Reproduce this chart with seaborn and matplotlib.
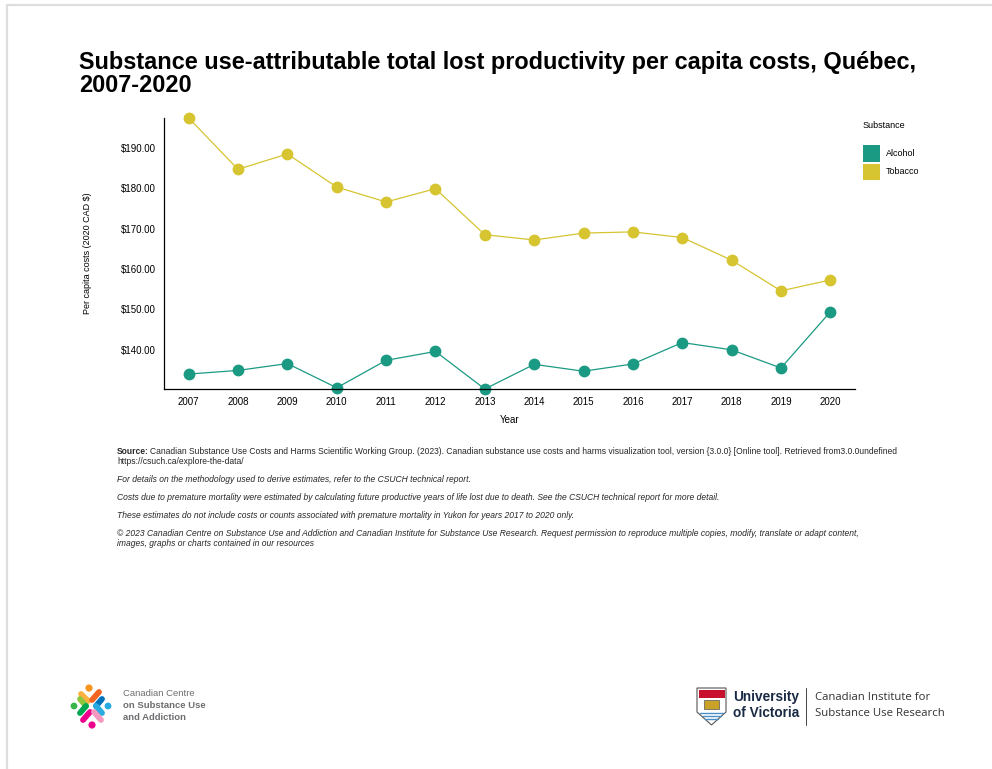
import matplotlib
matplotlib.use("Agg")
import matplotlib.pyplot as plt
import matplotlib.patches as mpatches
from matplotlib.lines import Line2D
from matplotlib.ticker import FuncFormatter
import numpy as np
import pandas as pd
import seaborn as sns

# ---------------- data ----------------
years = [2007, 2008, 2009, 2010, 2011, 2012, 2013, 2014, 2015, 2016, 2017, 2018, 2019, 2020]
alcohol = [134.0, 134.9, 136.6, 130.6, 137.4, 139.6, 130.3, 136.4, 134.7, 136.5, 141.8, 140.0, 135.5, 149.4]
tobacco = [197.4, 184.7, 188.5, 180.3, 176.6, 179.9, 168.5, 167.2, 168.9, 169.2, 167.8, 162.2, 154.6, 157.3]
substances = ["Alcohol", "Tobacco"]
colors = ["#1b9a83", "#d6c431"]
y_ticks = [140, 150, 160, 170, 180, 190]

title_lines = ["Substance use-attributable total lost productivity per capita costs, Québec,", "2007-2020"]
y_label = "Per capita costs (2020 CAD $)"
x_label = "Year"
legend_title = "Substance"
source_bold = "Source:"
source_rest = ("Canadian Substance Use Costs and Harms Scientific Working Group. (2023). Canadian substance use costs and harms "
               "visualization tool, version {3.0.0} [Online tool]. Retrieved from3.0.0undefined")
source_url = "https://csuch.ca/explore-the-data/"
notes = [
    "For details on the methodology used to derive estimates, refer to the CSUCH technical report.",
    "Costs due to premature mortality were estimated by calculating future productive years of life lost due to death. See the CSUCH technical report for more detail.",
    "These estimates do not include costs or counts associated with premature mortality in Yukon for years 2017 to 2020 only.",
]
copyright_lines = [
    "© 2023 Canadian Centre on Substance Use and Addiction and Canadian Institute for Substance Use Research. Request permission to reproduce multiple copies, modify, translate or adapt content,",
    "images, graphs or charts contained in our resources",
]

df = pd.DataFrame({
    "Year": years * 2,
    "Cost": alcohol + tobacco,
    "Substance": [substances[0]] * len(years) + [substances[1]] * len(years),
})

# ---------------- style ----------------
sns.set_theme(style="white")
plt.rcParams["font.family"] = ["Liberation Sans", "DejaVu Sans"]

W, H = 992, 769
fig = plt.figure(figsize=(W / 100, H / 100), dpi=100)

def fx(x):
    return x / W

def fy(y):
    return 1 - y / H

ax_l, ax_r, ax_t, ax_b = 164, 855, 118, 389
ax = fig.add_axes([fx(ax_l), fy(ax_b), (ax_r - ax_l) / W, (ax_b - ax_t) / H])

sns.lineplot(data=df, x="Year", y="Cost", hue="Substance", palette=colors,
             marker="o", markersize=8.5, markeredgewidth=0, linewidth=0.9,
             legend=False, ax=ax)
for ln in ax.lines:
    ln.set_clip_on(False)

ymin = min(alcohol + tobacco)
ymax = max(alcohol + tobacco)
ax.set_ylim(ymin, ymax)
ax.set_xlim(years[0] - 0.5, years[-1] + 0.5)
ax.set_xticks(years)
ax.set_xticklabels([str(y) for y in years])
ax.set_yticks(y_ticks)
ax.yaxis.set_major_formatter(FuncFormatter(lambda v, p: f"${v:.2f}"))
ax.set_yticks([ymin, ymax], minor=True)
ax.set_xticks([years[0] - 0.5, years[-1] + 0.5], minor=True)

for side in ["top", "right"]:
    ax.spines[side].set_visible(False)
for side in ["left", "bottom"]:
    ax.spines[side].set_color("black")
    ax.spines[side].set_linewidth(0.9)

ax.tick_params(axis="both", which="both", direction="out", length=4.5, width=0.9,
               color="black", labelsize=7, labelcolor="black")
ax.tick_params(axis="y", which="major", pad=1.5)
ax.tick_params(axis="x", which="major", pad=1.5)
ax.tick_params(axis="both", which="minor", labelsize=0)
ax.grid(False)

ax.set_xlabel(x_label, fontsize=7, color="black")
ax.set_ylabel(y_label, fontsize=6.5, color="black")
ax.xaxis.set_label_coords(0.5, -(415 - ax_b) / (ax_b - ax_t))
ax.yaxis.set_label_coords(-(164 - 92) / (ax_r - ax_l), 0.5)

# ---------------- title ----------------
fig.text(fx(79), fy(62), title_lines[0], fontsize=16.9, fontweight="bold", color="black",
         ha="left", va="center")
fig.text(fx(79), fy(85), title_lines[1], fontsize=16.9, fontweight="bold", color="black",
         ha="left", va="center")

# ---------------- legend ----------------
fig.text(fx(863), fy(125), legend_title, fontsize=6.5, color="black", ha="left", va="center")
for i, (name, c) in enumerate(zip(substances, colors)):
    top = 145.5 + i * 18.3
    fig.patches.append(mpatches.Rectangle((fx(863), fy(top + 16.5)), 17 / W, 16.5 / H,
                                          transform=fig.transFigure, facecolor=c, edgecolor="none"))
    fig.text(fx(886), fy(top + 8.2), name, fontsize=6.5, color="black", ha="left", va="center")

# ---------------- footnotes ----------------
fig.canvas.draw()
renderer = fig.canvas.get_renderer()
fs_note = 6.15
t_src = fig.text(fx(117), fy(451), source_bold, fontsize=fs_note, fontweight="bold", ha="left", va="center")
bb = t_src.get_window_extent(renderer=renderer)
fig.text((bb.x1 + 1.5) / W, fy(451), source_rest, fontsize=fs_note, ha="left", va="center")
fig.text(fx(117), fy(462), source_url, fontsize=fs_note, ha="left", va="center")
for i, n in enumerate(notes):
    fig.text(fx(117), fy(479 + i * 18), n, fontsize=fs_note, style="italic", ha="left", va="center")
fig.text(fx(117), fy(533), copyright_lines[0], fontsize=fs_note, style="italic", ha="left", va="center")
fig.text(fx(117), fy(544), copyright_lines[1], fontsize=fs_note, style="italic", ha="left", va="center")

# ---------------- page border ----------------
fig.lines.append(Line2D([fx(7), fx(992)], [fy(5), fy(5)], transform=fig.transFigure,
                        color="#dedede", linewidth=1.6))
fig.lines.append(Line2D([fx(7), fx(7)], [fy(5), fy(769)], transform=fig.transFigure,
                        color="#dedede", linewidth=1.6))

# ---------------- CCSA logo (approximation) ----------------
cx, cy = 91, 706
def seg(x0, y0, x1, y1, c, lw=4.2):
    fig.lines.append(Line2D([fx(x0), fx(x1)], [fy(y0), fy(y1)], transform=fig.transFigure,
                            color=c, linewidth=lw, solid_capstyle="round"))
def dot(x, y, r, c):
    fig.patches.append(mpatches.Ellipse((fx(x), fy(y)), 2 * r / W, 2 * r / H,
                                        transform=fig.transFigure, facecolor=c, edgecolor="none"))
dot(cx - 2, 688, 3.6, "#f7941d")
seg(cx - 10, 694, cx - 3, 701, "#fbb040")
seg(cx + 8, 692, cx + 1, 700, "#f26522")
dot(cx - 17, 706, 3.4, "#39b54a")
seg(cx - 11, 699, cx - 5, 706, "#8dc63f")
seg(cx - 11, 713, cx - 5, 706, "#00a651")
dot(cx + 17, 706, 3.4, "#27aae1")
seg(cx + 11, 699, cx + 5, 706, "#0072bc")
seg(cx + 11, 713, cx + 5, 706, "#29abe2")
dot(cx + 1, 725, 3.6, "#ec008c")
seg(cx - 8, 720, cx - 1, 712, "#ec008c")
seg(cx + 10, 720, cx + 3, 712, "#f49ac1")
fig.text(fx(123), fy(694), "Canadian Centre", fontsize=6.8, color="#6d6e71", ha="left", va="center")
fig.text(fx(123), fy(706), "on Substance Use", fontsize=6.8, color="#6d6e71", fontweight="bold", ha="left", va="center")
fig.text(fx(123), fy(717), "and Addiction", fontsize=6.8, color="#6d6e71", fontweight="bold", ha="left", va="center")

# ---------------- UVic logo (approximation) ----------------
shield = np.array([[697, 688], [726, 688], [726, 712], [711.5, 725], [697, 712]], dtype=float)
fig.patches.append(mpatches.Polygon(np.column_stack([fx(shield[:, 0]), fy(shield[:, 1])]),
                                    closed=True, transform=fig.transFigure,
                                    facecolor="white", edgecolor="#555555", linewidth=0.8))
fig.patches.append(mpatches.Rectangle((fx(698.5), fy(698)), 26 / W, 8.5 / H, transform=fig.transFigure,
                                      facecolor="#c8102e", edgecolor="none"))
fig.patches.append(mpatches.Rectangle((fx(704), fy(709)), 15 / W, 9 / H, transform=fig.transFigure,
                                      facecolor="#c9a227", edgecolor="#555555", linewidth=0.5))
for k in range(3):
    yy = 713 + k * 3
    seg(700 + k * 2.5, yy, 723 - k * 2.5, yy, "#4a90c8", lw=1.0)
fig.text(fx(733), fy(697), "University", fontsize=9.8, fontweight="bold", color="#1a2a44", ha="left", va="center")
fig.text(fx(733), fy(713), "of Victoria", fontsize=9.8, fontweight="bold", color="#1a2a44", ha="left", va="center")
fig.lines.append(Line2D([fx(806), fx(806)], [fy(688), fy(725)], transform=fig.transFigure,
                        color="#444444", linewidth=0.7))
fig.text(fx(815), fy(698), "Canadian Institute for", fontsize=8.2, color="#333333", ha="left", va="center",
         family=["Open Sans", "DejaVu Sans"])
fig.text(fx(815), fy(713), "Substance Use Research", fontsize=8.2, color="#333333", ha="left", va="center",
         family=["Open Sans", "DejaVu Sans"])

fig.savefig("out.png", dpi=100, facecolor="white")
